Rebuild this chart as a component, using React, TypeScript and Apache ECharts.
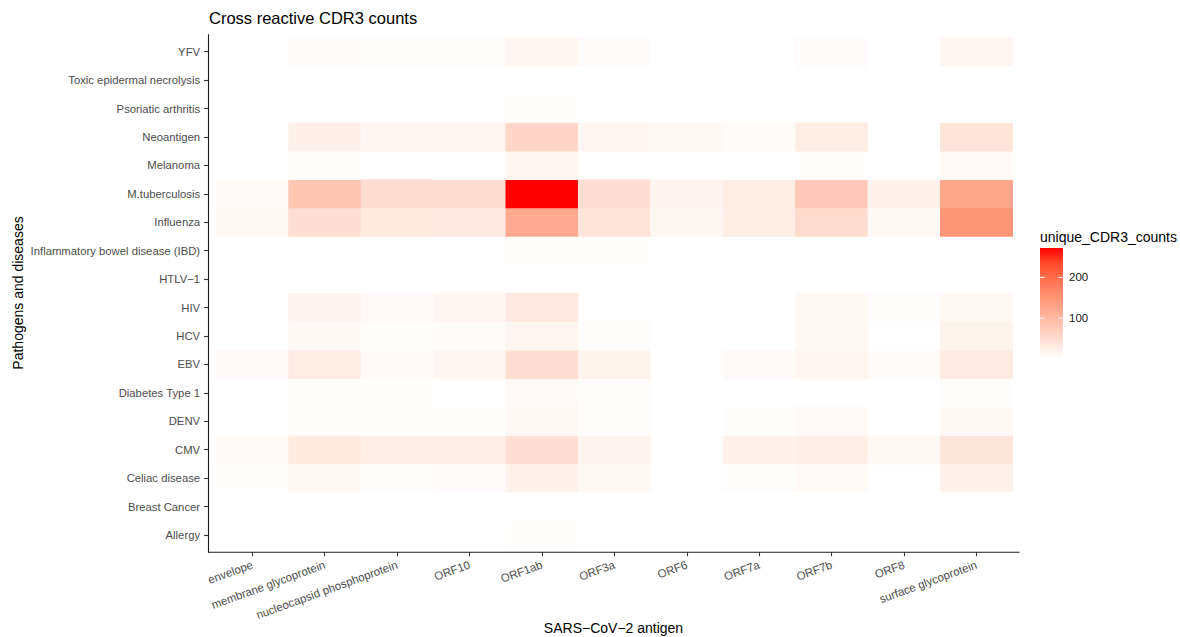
import React, { useEffect, useRef } from "react";
import * as echarts from "echarts";

// SARS-CoV-2 antigens (x axis)
const antigens = [
  "envelope",
  "membrane glycoprotein",
  "nucleocapsid phosphoprotein",
  "ORF10",
  "ORF1ab",
  "ORF3a",
  "ORF6",
  "ORF7a",
  "ORF7b",
  "ORF8",
  "surface glycoprotein",
];

// Pathogens and diseases (y axis, bottom to top)
const pathogens = [
  "Allergy",
  "Breast Cancer",
  "Celiac disease",
  "CMV",
  "DENV",
  "Diabetes Type 1",
  "EBV",
  "HCV",
  "HIV",
  "HTLV\u22121",
  "Inflammatory bowel disease (IBD)",
  "Influenza",
  "M.tuberculosis",
  "Melanoma",
  "Neoantigen",
  "Psoriatic arthritis",
  "Toxic epidermal necrolysis",
  "YFV",
];

const N = null;
// unique_CDR3_counts per antigen, in the order of `pathogens`
const envelopeCounts = [N, N, 3, 9, N, N, 9, N, N, N, N, 11, 8, N, N, N, N, N];
const membraneCounts = [N, N, 10, 31, 3, 5, 27, 11, 16, N, N, 47, 81, 3, 22, N, N, 7];
const nucleocapsidCounts = [N, N, 4, 26, 3, 3, 8, 4, 8, N, 2, 32, 50, N, 14, 2, N, 5];
const orf10Counts = [N, N, 6, 26, 3, N, 14, 7, 13, N, 2, 30, 50, 2, 15, 2, N, 5];
const orf1abCounts = [3, N, 20, 47, 10, 8, 47, 15, 30, N, 3, 120, 272, 14, 60, 3, N, 15];
const orf3aCounts = [N, N, 10, 17, 4, 4, 18, 4, N, N, 3, 39, 47, N, 14, N, N, 6];
const orf6Counts = [N, N, 2, N, N, N, N, N, N, N, N, 12, 17, N, 10, N, N, N];
const orf7aCounts = [N, N, 4, 21, 4, N, 9, N, N, N, 2, 27, 27, 2, 7, N, N, N];
const orf7bCounts = [N, N, 8, 24, 9, N, 15, 10, 10, N, 2, 52, 78, 3, 27, N, 2, 6];
const orf8Counts = [N, N, 2, 10, N, N, 7, 2, 5, N, N, 10, 20, N, N, N, N, N];
const surfaceCounts = [N, N, 20, 36, 10, 4, 29, 18, 11, N, N, 148, 126, 9, 39, 2, N, 14];

const countsByAntigen = [
  envelopeCounts,
  membraneCounts,
  nucleocapsidCounts,
  orf10Counts,
  orf1abCounts,
  orf3aCounts,
  orf6Counts,
  orf7aCounts,
  orf7bCounts,
  orf8Counts,
  surfaceCounts,
];

const colorMin = 1;
const colorMax = 272;
const legendTicks = [100, 200];
// white -> red gradient (Lab-interpolated samples)
const palette = [
  "#ffffff",
  "#ffe7de",
  "#ffcfbf",
  "#ffb7a0",
  "#ff9e81",
  "#ff8464",
  "#ff6846",
  "#ff4628",
  "#ff0000",
];

const FONT = "'Liberation Sans', Arial, Helvetica, sans-serif";

export default function App() {
  const ref = useRef<HTMLDivElement>(null);

  useEffect(() => {
    document.body.style.margin = "0";
    const chart = echarts.init(ref.current!, null, { renderer: "svg" });

    const data: [number, number, number][] = [];
    countsByAntigen.forEach((col, i) => {
      col.forEach((v, j) => {
        if (v !== null && v !== undefined) data.push([i, j, v as number]);
      });
    });

    // colour bar legend geometry
    const barX = 1040;
    const barW = 23;
    const barTop = 248;
    const barBottom = 358.5;
    const yOf = (v: number) =>
      barBottom - ((v - colorMin) / (colorMax - colorMin)) * (barBottom - barTop);

    const n = palette.length - 1;
    const stops = palette
      .slice()
      .reverse()
      .map((c, i) => ({ offset: i / n, color: c }));

    const legendGraphics: any[] = [
      {
        type: "text",
        x: 1040,
        y: 236.5,
        style: {
          text: "unique_CDR3_counts",
          fontSize: 14,
          fontFamily: FONT,
          fill: "#000",
          textVerticalAlign: "middle",
          textAlign: "left",
        },
      },
      {
        type: "rect",
        shape: { x: barX, y: barTop, width: barW, height: barBottom - barTop },
        style: {
          fill: new echarts.graphic.LinearGradient(0, 0, 0, 1, stops),
        },
      },
    ];
    legendTicks.forEach((t) => {
      const y = yOf(t);
      legendGraphics.push(
        {
          type: "line",
          shape: { x1: barX, y1: y, x2: barX + barW / 5, y2: y },
          style: { stroke: "#ffffff", lineWidth: 1 },
        },
        {
          type: "line",
          shape: { x1: barX + barW - barW / 5, y1: y, x2: barX + barW, y2: y },
          style: { stroke: "#ffffff", lineWidth: 1 },
        },
        {
          type: "text",
          x: 1069,
          y: y,
          style: {
            text: String(t),
            fontSize: 11.5,
            fontFamily: FONT,
            fill: "#1a1a1a",
            textVerticalAlign: "middle",
            textAlign: "left",
          },
        }
      );
    });

    const option: any = {
      animation: false,
      backgroundColor: "#ffffff",
      title: {
        text: "Cross reactive CDR3 counts",
        left: 209,
        top: 9.5,
        padding: 0,
        textStyle: {
          fontSize: 16.5,
          fontWeight: "normal",
          color: "#000",
          fontFamily: FONT,
        },
      },
      grid: {
        left: 216.1,
        top: 37.5,
        width: 796.6,
        height: 511.7,
        containLabel: false,
      },
      xAxis: {
        type: "category",
        data: antigens,
        offset: 3,
        axisLine: { show: false },
        axisTick: {
          show: true,
          alignWithLabel: true,
          length: 4,
          lineStyle: { color: "#333", width: 1.1 },
        },
        axisLabel: {
          interval: 0,
          rotate: 20,
          margin: 12,
          fontSize: 11.5,
          color: "#4d4d4d",
          fontFamily: FONT,
        },
        splitLine: { show: false },
      },
      yAxis: {
        type: "category",
        data: pathogens,
        offset: 8,
        axisLine: { show: false },
        axisTick: {
          show: true,
          alignWithLabel: true,
          length: 4,
          lineStyle: { color: "#333", width: 1.1 },
        },
        axisLabel: {
          interval: 0,
          margin: 8,
          fontSize: 11.3,
          color: "#4d4d4d",
          fontFamily: FONT,
        },
        splitLine: { show: false },
      },
      visualMap: {
        show: false,
        type: "continuous",
        dimension: 2,
        min: colorMin,
        max: colorMax,
        inRange: { color: palette },
      },
      series: [
        {
          type: "heatmap",
          data,
          itemStyle: { borderWidth: 0 },
          emphasis: { disabled: true },
          label: { show: false },
        },
      ],
      graphic: [
        {
          type: "line",
          shape: { x1: 208.5, y1: 34.3, x2: 208.5, y2: 552.5 },
          style: { stroke: "#1a1a1a", lineWidth: 1.1 },
        },
        {
          type: "line",
          shape: { x1: 208, y1: 552.2, x2: 1019.5, y2: 552.2 },
          style: { stroke: "#1a1a1a", lineWidth: 1.1 },
        },
        {
          type: "text",
          x: 613.5,
          y: 628,
          style: {
            text: "SARS\u2212CoV\u22122 antigen",
            fontSize: 14,
            fontFamily: FONT,
            fill: "#000",
            textAlign: "center",
            textVerticalAlign: "middle",
          },
        },
        {
          type: "text",
          x: 18,
          y: 293,
          rotation: Math.PI / 2,
          style: {
            text: "Pathogens and diseases",
            fontSize: 14,
            fontFamily: FONT,
            fill: "#000",
            textAlign: "center",
            textVerticalAlign: "middle",
          },
        },
        ...legendGraphics,
      ],
    };

    chart.setOption(option);
    return () => chart.dispose();
  }, []);

  return <div ref={ref} style={{ width: 1180, height: 637 }} />;
}
